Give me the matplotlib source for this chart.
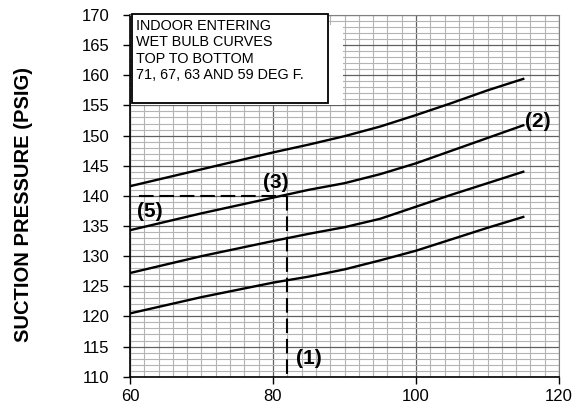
import numpy as np
import matplotlib.pyplot as plt
from matplotlib.patches import Rectangle

# outdoor temperature (deg F) along the x axis
outdoor_temp = [60, 70, 80, 85, 90, 95, 100, 105, 110, 115]

# suction pressure curves, indoor wet bulb top to bottom
wb_71 = [141.6, 144.4, 147.2, 148.5, 149.9, 151.5, 153.4, 155.4, 157.5, 159.4]
wb_67 = [134.3, 137.1, 139.7, 141.0, 142.1, 143.6, 145.4, 147.5, 149.6, 151.7]
wb_63 = [127.2, 130.0, 132.5, 133.7, 134.8, 136.2, 138.2, 140.2, 142.1, 144.0]
wb_59 = [120.5, 123.2, 125.6, 126.6, 127.8, 129.3, 130.9, 132.8, 134.7, 136.5]

# example reading
read_temp = 82
read_press = 140

x_ticks = [60, 80, 100, 120]
y_ticks = list(range(110, 171, 5))

box_text = "INDOOR ENTERING\nWET BULB CURVES\nTOP TO BOTTOM\n71, 67, 63 AND 59 DEG F."

fig = plt.figure(figsize=(5.79, 4.13), dpi=100)
ax = fig.add_axes([0.2245, 0.0879, 0.741, 0.8758])

ax.set_xlim(60, 120)
ax.set_ylim(110, 170)

# graph paper grid
ax.set_xticks(x_ticks)
ax.set_yticks(y_ticks)
ax.set_xticks(np.arange(60, 121, 2), minor=True)
ax.set_yticks(np.arange(110, 171, 1), minor=True)
ax.grid(which='minor', color='#b4b4b4', lw=0.8)
ax.grid(which='major', color='#606060', lw=0.9)
ax.tick_params(which='minor', length=0)
ax.tick_params(which='major', length=5, width=1, labelsize=12)
ax.tick_params(axis='x', pad=4)
ax.tick_params(axis='y', pad=10)
for lab in ax.get_xticklabels() + ax.get_yticklabels():
    lab.set_family('Liberation Sans')
for s in ['top', 'right']:
    ax.spines[s].set_color('#808080')
for s in ['left', 'bottom']:
    ax.spines[s].set_linewidth(1.2)

# legend box, white area covers the grid
ax.add_patch(Rectangle((60.2, 155.0), 29.6, 13.3, facecolor='white',
                       edgecolor='none', zorder=3))
ax.add_patch(Rectangle((60.3, 155.4), 27.4, 14.8, facecolor='white',
                       edgecolor='black', lw=1.3, zorder=4, clip_on=False))
ax.text(60.9, 169.3, box_text, fontsize=10.4, family='Liberation Sans',
        va='top', ha='left', linespacing=1.2, zorder=5)

for curve in [wb_71, wb_67, wb_63, wb_59]:
    ax.plot(outdoor_temp, curve, color='black', lw=1.7, zorder=6)

# dashed reading lines
ax.plot([61.3, read_temp], [read_press, read_press], color='black', lw=1.5,
        dashes=(7, 2.8), zorder=6)
ax.plot([read_temp, read_temp], [read_press, 110], color='black', lw=1.5,
        dashes=(7, 2.8), zorder=6)

lbl = dict(fontsize=15, fontweight='bold', family='Liberation Sans',
           ha='center', va='center', zorder=7)
ax.text(85.0, 113.0, "(1)", **lbl)
ax.text(117.0, 152.4, "(2)", **lbl)
ax.text(80.4, 142.2, "(3)", **lbl)
ax.text(62.75, 137.4, "(5)", **lbl)

fig.text(0.040, 0.506, "SUCTION PRESSURE (PSIG)", rotation=90, fontsize=14.5,
         fontweight='bold', family='Liberation Sans', ha='center', va='center')

fig.savefig('out.png', dpi=100)
